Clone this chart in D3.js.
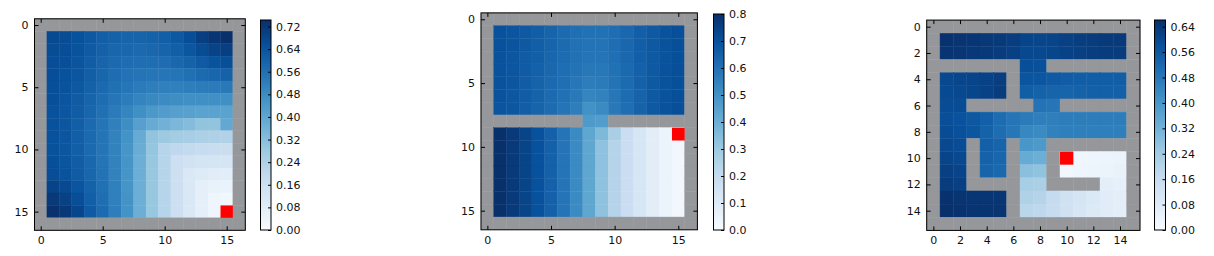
<!DOCTYPE html>
<html><head><meta charset="utf-8">
<script src="https://cdn.jsdelivr.net/npm/d3@7"></script>
<style>
body{margin:0;background:#fff}
text{font-family:"DejaVu Sans",sans-serif;font-size:11px;fill:#111}
</style>
</head><body><svg id="c" width="1214" height="256"></svg>
<script>
const W = null; // wall cell

// Matplotlib "Blues" colormap control colours
const bluesColors = ["#f7fbff","#deebf7","#c6dbef","#9ecae1","#6baed6","#4292c6","#2171b5","#08519c","#08306b"];
const wallColor = "#95979a";
const goalColor = "#ff0000";

// ---------- Panel 1: open 15x15 room (rows/cols 1..15), border walls ----------
const panel1Interior = [
 [0.67,0.665,0.65,0.63,0.61,0.60,0.595,0.595,0.60,0.61,0.63,0.66,0.70,0.725,0.743],
 [0.665,0.66,0.645,0.625,0.605,0.59,0.585,0.58,0.585,0.595,0.61,0.635,0.665,0.69,0.70],
 [0.66,0.655,0.64,0.615,0.595,0.58,0.57,0.565,0.565,0.57,0.585,0.60,0.625,0.645,0.655],
 [0.66,0.65,0.635,0.61,0.59,0.57,0.555,0.55,0.545,0.545,0.55,0.56,0.575,0.59,0.60],
 [0.655,0.645,0.63,0.605,0.58,0.56,0.545,0.53,0.52,0.515,0.515,0.52,0.525,0.53,0.535],
 [0.655,0.64,0.62,0.595,0.57,0.545,0.525,0.505,0.49,0.48,0.475,0.47,0.47,0.47,0.47],
 [0.65,0.635,0.615,0.59,0.56,0.53,0.50,0.47,0.445,0.43,0.42,0.415,0.41,0.41,0.41],
 [0.65,0.635,0.61,0.58,0.55,0.515,0.475,0.42,0.38,0.36,0.34,0.325,0.30,0.30,0.39],
 [0.65,0.635,0.61,0.58,0.55,0.51,0.46,0.38,0.30,0.28,0.265,0.255,0.245,0.24,0.235],
 [0.65,0.635,0.61,0.58,0.55,0.51,0.455,0.375,0.295,0.22,0.20,0.19,0.18,0.175,0.17],
 [0.655,0.64,0.615,0.585,0.55,0.51,0.455,0.37,0.29,0.22,0.16,0.145,0.135,0.13,0.125],
 [0.66,0.645,0.62,0.59,0.555,0.51,0.455,0.37,0.29,0.22,0.16,0.11,0.095,0.085,0.08],
 [0.69,0.67,0.64,0.60,0.56,0.515,0.455,0.37,0.29,0.22,0.16,0.11,0.07,0.055,0.05],
 [0.715,0.695,0.66,0.61,0.565,0.515,0.46,0.37,0.29,0.22,0.16,0.11,0.07,0.035,0.025],
 [0.74,0.72,0.68,0.625,0.575,0.52,0.46,0.37,0.29,0.22,0.16,0.11,0.07,0.035,0]
];
const goal1 = [15, 15];
const axisTicks1 = [0, 5, 10, 15];
const cbarTicks1 = [0,0.08,0.16,0.24,0.32,0.40,0.48,0.56,0.64,0.72];

// ---------- Panel 2: two rooms joined by a doorway (rows/cols 1..15) ----------
const panel2Interior = [
 [0.70,0.69,0.675,0.66,0.64,0.62,0.605,0.60,0.60,0.61,0.63,0.655,0.675,0.695,0.705],
 [0.70,0.69,0.675,0.655,0.64,0.62,0.60,0.595,0.595,0.61,0.63,0.655,0.675,0.695,0.705],
 [0.695,0.685,0.67,0.655,0.635,0.615,0.60,0.59,0.59,0.605,0.63,0.655,0.675,0.695,0.705],
 [0.695,0.685,0.67,0.65,0.63,0.61,0.595,0.58,0.58,0.60,0.625,0.65,0.675,0.695,0.705],
 [0.695,0.685,0.665,0.645,0.625,0.605,0.585,0.565,0.57,0.595,0.62,0.65,0.675,0.695,0.705],
 [0.695,0.68,0.665,0.645,0.62,0.60,0.575,0.54,0.55,0.585,0.615,0.645,0.675,0.695,0.705],
 [0.69,0.68,0.66,0.64,0.615,0.59,0.56,0.50,0.52,0.575,0.61,0.645,0.675,0.695,0.705],
 [W,W,W,W,W,W,W,0.47,0.46,W,W,W,W,W,W],
 [0.80,0.77,0.74,0.70,0.65,0.59,0.52,0.43,0.36,0.27,0.18,0.13,0.085,0.045,0],
 [0.80,0.77,0.74,0.70,0.65,0.59,0.52,0.43,0.33,0.24,0.18,0.13,0.085,0.05,0.025],
 [0.80,0.77,0.74,0.70,0.65,0.59,0.52,0.43,0.33,0.24,0.18,0.13,0.085,0.05,0.025],
 [0.80,0.77,0.74,0.70,0.65,0.59,0.52,0.43,0.33,0.24,0.18,0.13,0.085,0.05,0.025],
 [0.80,0.77,0.74,0.70,0.65,0.59,0.52,0.43,0.33,0.24,0.18,0.13,0.085,0.05,0.025],
 [0.80,0.77,0.74,0.70,0.65,0.59,0.52,0.43,0.33,0.24,0.18,0.13,0.085,0.05,0.025],
 [0.80,0.77,0.74,0.70,0.65,0.59,0.52,0.43,0.33,0.24,0.18,0.13,0.085,0.05,0.025]
];
const goal2 = [9, 15];
const axisTicks2 = [0, 5, 10, 15];
const cbarTicks2 = [0,0.1,0.2,0.3,0.4,0.5,0.6,0.7,0.8];

// ---------- Panel 3: maze (full 16x16 grid, W = wall) ----------
const panel3Grid = [
 [W,W,W,W,W,W,W,W,W,W,W,W,W,W,W,W],
 [W,0.655,0.65,0.645,0.64,0.635,0.625,0.61,0.605,0.61,0.62,0.625,0.63,0.635,0.635,W],
 [W,0.65,0.645,0.64,0.635,0.63,0.62,0.60,0.60,0.605,0.615,0.62,0.625,0.63,0.63,W],
 [W,W,W,W,W,W,W,0.585,0.58,W,W,W,W,W,W,W],
 [W,0.60,0.605,0.61,0.615,0.625,W,0.57,0.565,0.555,0.55,0.545,0.545,0.545,0.545,W],
 [W,0.595,0.60,0.605,0.615,0.63,W,0.545,0.535,0.53,0.53,0.535,0.54,0.54,0.54,W],
 [W,0.59,0.59,W,W,W,W,W,0.49,0.485,W,W,W,W,W,W],
 [W,0.585,0.575,0.56,0.54,0.51,0.485,0.47,0.46,0.46,0.465,0.465,0.465,0.465,0.465,W],
 [W,0.59,0.58,0.565,0.535,0.505,0.48,0.44,0.43,0.455,0.46,0.46,0.46,0.46,0.46,W],
 [W,0.60,0.59,W,0.54,0.53,W,0.40,0.39,W,W,W,W,W,W,W],
 [W,0.61,0.60,W,0.535,0.525,W,0.34,0.33,W,0,0.025,0.03,0.035,0.04,W],
 [W,0.62,0.61,W,0.53,0.52,W,0.28,0.27,W,0.02,0.03,0.035,0.04,0.045,W],
 [W,0.63,0.62,W,W,W,W,0.23,0.22,W,W,W,W,0.065,0.055,W],
 [W,0.655,0.65,0.645,0.645,0.645,W,0.21,0.20,0.165,0.135,0.115,0.095,0.075,0.065,W],
 [W,0.661,0.655,0.65,0.65,0.65,W,0.19,0.18,0.16,0.13,0.11,0.09,0.075,0.065,W],
 [W,W,W,W,W,W,W,W,W,W,W,W,W,W,W,W]
];
const goal3 = [10, 10];
const axisTicks3 = [0,2,4,6,8,10,12,14];
const cbarTicks3 = [0,0.08,0.16,0.24,0.32,0.40,0.48,0.56,0.64];

// surround an interior block with a one-cell wall border
function padWalls(interior) {
  const n = interior.length + 2;
  const g = [];
  for (let r = 0; r < n; r++) {
    const row = [];
    for (let c = 0; c < n; c++) {
      if (r === 0 || c === 0 || r === n - 1 || c === n - 1) row.push(W);
      else row.push(interior[r - 1][c - 1]);
    }
    g.push(row);
  }
  return g;
}

const svg = d3.select("#c");
let gradId = 0;

function drawPanel(grid, goal, box, axisTicks, cbar, cbarTicks, fmt) {
  const n = grid.length;
  const all = grid.flat().filter(v => v !== null);
  const vmin = d3.min(all), vmax = d3.max(all);
  const color = d3.scaleLinear()
    .domain(bluesColors.map((_, i) => vmin + (vmax - vmin) * i / (bluesColors.length - 1)))
    .range(bluesColors).interpolate(d3.interpolateRgb).clamp(true);

  const x = d3.scaleLinear().domain([-0.5, n - 0.5]).range([box.x0, box.x1]);
  const y = d3.scaleLinear().domain([-0.5, n - 0.5]).range([box.y0, box.y1]);
  const g = svg.append("g");

  const cells = [];
  grid.forEach((row, r) => row.forEach((v, c) => cells.push({r, c, v})));
  g.selectAll("rect.cell").data(cells).enter().append("rect")
    .attr("x", d => x(d.c - 0.5)).attr("y", d => y(d.r - 0.5))
    .attr("width", d => x(d.c + 0.5) - x(d.c - 0.5))
    .attr("height", d => y(d.r + 0.5) - y(d.r - 0.5))
    .attr("fill", d => d.v === null ? wallColor : color(d.v))
    .attr("stroke", d => d.v === null ? wallColor : color(d.v))
    .attr("stroke-width", 0.4);

  g.append("rect")
    .attr("x", x(goal[1] - 0.5)).attr("y", y(goal[0] - 0.5))
    .attr("width", x(goal[1] + 0.5) - x(goal[1] - 0.5))
    .attr("height", y(goal[0] + 0.5) - y(goal[0] - 0.5))
    .attr("fill", goalColor);

  // axes with inward ticks on all four sides
  const axB = d3.axisBottom(x).tickValues(axisTicks).tickSizeInner(-4).tickSizeOuter(0).tickPadding(6);
  const axT = d3.axisTop(x).tickValues(axisTicks).tickSizeInner(-4).tickSizeOuter(0).tickFormat("");
  const axL = d3.axisLeft(y).tickValues(axisTicks).tickSizeInner(-4).tickSizeOuter(0).tickPadding(6);
  const axR = d3.axisRight(y).tickValues(axisTicks).tickSizeInner(-4).tickSizeOuter(0).tickFormat("");
  [[axB, `translate(0,${box.y1})`], [axT, `translate(0,${box.y0})`],
   [axL, `translate(${box.x0},0)`], [axR, `translate(${box.x1},0)`]].forEach(([ax, tr]) => {
    const a = g.append("g").attr("transform", tr).call(ax);
    a.select(".domain").remove();
    a.selectAll("line").attr("stroke", "#000");
    a.selectAll("text").attr("font-size", null).attr("font-family", null);
  });
  g.append("rect").attr("x", box.x0).attr("y", box.y0)
    .attr("width", box.x1 - box.x0).attr("height", box.y1 - box.y0)
    .attr("fill", "none").attr("stroke", "#000").attr("stroke-width", 1);

  // colorbar
  const id = "grad" + (gradId++);
  const grad = svg.append("defs").append("linearGradient").attr("id", id)
    .attr("x1", 0).attr("y1", 1).attr("x2", 0).attr("y2", 0);
  bluesColors.forEach((col, i) => grad.append("stop")
    .attr("offset", i / (bluesColors.length - 1)).attr("stop-color", col));
  g.append("rect").attr("x", cbar.x0).attr("y", cbar.y0)
    .attr("width", cbar.x1 - cbar.x0).attr("height", cbar.y1 - cbar.y0)
    .attr("fill", `url(#${id})`);
  const cy = d3.scaleLinear().domain([vmin, vmax]).range([cbar.y1, cbar.y0]);
  const cax = g.append("g").attr("transform", `translate(${cbar.x1},0)`)
    .call(d3.axisRight(cy).tickValues(cbarTicks).tickSizeInner(-3).tickSizeOuter(0)
      .tickPadding(5).tickFormat(d3.format(fmt)));
  cax.select(".domain").remove();
  cax.selectAll("line").attr("stroke", "#000");
  cax.selectAll("text").attr("font-size", null).attr("font-family", null);
  g.append("rect").attr("x", cbar.x0).attr("y", cbar.y0)
    .attr("width", cbar.x1 - cbar.x0).attr("height", cbar.y1 - cbar.y0)
    .attr("fill", "none").attr("stroke", "#000").attr("stroke-width", 1);
}

drawPanel(padWalls(panel1Interior), goal1, {x0: 34.5, x1: 245.3, y0: 18.8, y1: 230.3},
  axisTicks1, {x0: 260.5, x1: 271, y0: 20, y1: 230}, cbarTicks1, ".2f");
drawPanel(padWalls(panel2Interior), goal2, {x0: 481, x1: 697.4, y0: 12.9, y1: 229.8},
  axisTicks2, {x0: 713.5, x1: 724, y0: 14, y1: 230}, cbarTicks2, ".1f");
drawPanel(panel3Grid, goal3, {x0: 926.7, x1: 1140, y0: 20.1, y1: 230.4},
  axisTicks3, {x0: 1154.5, x1: 1165.5, y0: 20, y1: 230}, cbarTicks3, ".2f");
</script>
</body></html>
